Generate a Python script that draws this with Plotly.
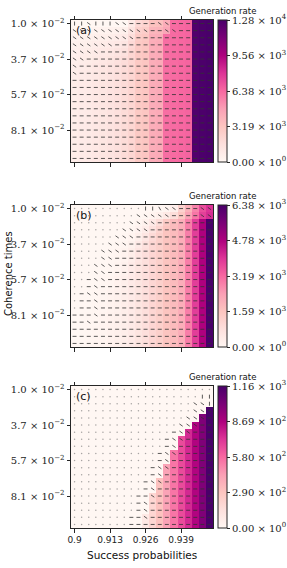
import numpy as np
import plotly.graph_objects as go

# ---------------- data ----------------
success_prob = [0.9, 0.90263, 0.90526, 0.90789, 0.91053, 0.91316, 0.91579, 0.91842, 0.92105, 0.92368,
                0.92632, 0.92895, 0.93158, 0.93421, 0.93684, 0.93947, 0.94211, 0.94474, 0.94737, 0.95]
x_tick_vals = [0.9, 0.91316, 0.92632, 0.93947]
x_tick_text = ["0.9", "0.913", "0.926", "0.939"]

coherence_rows = list(range(20))
y_tick_rows = [0, 5, 10, 15]
y_tick_text = ["1.0 × 10<sup>−2</sup>", "3.7 × 10<sup>−2</sup>",
               "5.7 × 10<sup>−2</sup>", "8.1 × 10<sup>−2</sup>"]

rate_max = [12750, 6375, 1159]
cbar_text = [
    ["0.00 × 10<sup>0</sup>", "3.19 × 10<sup>3</sup>", "6.38 × 10<sup>3</sup>", "9.56 × 10<sup>3</sup>", "1.28 × 10<sup>4</sup>"],
    ["0.00 × 10<sup>0</sup>", "1.59 × 10<sup>3</sup>", "3.19 × 10<sup>3</sup>", "4.78 × 10<sup>3</sup>", "6.38 × 10<sup>3</sup>"],
    ["0.00 × 10<sup>0</sup>", "2.90 × 10<sup>2</sup>", "5.80 × 10<sup>2</sup>", "8.69 × 10<sup>2</sup>", "1.16 × 10<sup>3</sup>"],
]

rate_a = [
    [0, 0, 0, 0, 0, 0, 0, 0, 900, 2000, 2300, 3300, 3400, 4200, 6300, 6400, 6500, 12500, 12650, 12750],
    [150, 180, 220, 260, 300, 360, 420, 500, 1300, 2500, 2700, 3800, 3900, 4500, 6300, 6400, 6500, 12500, 12650, 12750],
    [300, 350, 400, 480, 560, 650, 760, 900, 1700, 2800, 3000, 4100, 4200, 6200, 6300, 6400, 6500, 12500, 12650, 12750],
    [420, 490, 560, 660, 770, 900, 1050, 1250, 2000, 2900, 3100, 4200, 4300, 6200, 6300, 6400, 6500, 12500, 12650, 12750],
    [520, 600, 690, 810, 940, 1100, 1300, 1550, 2200, 2900, 3100, 4200, 4300, 6200, 6300, 6400, 6500, 12500, 12650, 12750],
    [600, 700, 790, 930, 1080, 1270, 1500, 1750, 2200, 2900, 3100, 4200, 4300, 6200, 6300, 6400, 6500, 12500, 12650, 12750],
    [660, 760, 860, 1010, 1160, 1360, 1570, 1820, 2200, 2900, 3100, 4200, 4300, 6200, 6300, 6400, 6500, 12500, 12650, 12750],
    [700, 800, 900, 1050, 1200, 1400, 1600, 1850, 2200, 2900, 3100, 4200, 4300, 6200, 6300, 6400, 6500, 12500, 12650, 12750],
    [700, 800, 900, 1050, 1200, 1400, 1600, 1850, 2200, 2900, 3100, 4200, 4300, 6200, 6300, 6400, 6500, 12500, 12650, 12750],
    [700, 800, 900, 1050, 1200, 1400, 1600, 1850, 2200, 2900, 3100, 4200, 4300, 6200, 6300, 6400, 6500, 12500, 12650, 12750],
    [700, 800, 900, 1050, 1200, 1400, 1600, 1850, 2200, 2900, 3100, 4200, 4300, 6200, 6300, 6400, 6500, 12500, 12650, 12750],
    [700, 800, 900, 1050, 1200, 1400, 1600, 1850, 2200, 2900, 3100, 4200, 4300, 6200, 6300, 6400, 6500, 12500, 12650, 12750],
    [700, 800, 900, 1050, 1200, 1400, 1600, 1850, 2200, 2900, 3100, 4200, 4300, 6200, 6300, 6400, 6500, 12500, 12650, 12750],
    [700, 800, 900, 1050, 1200, 1400, 1600, 1850, 2200, 2900, 3100, 4200, 4300, 6200, 6300, 6400, 6500, 12500, 12650, 12750],
    [700, 800, 900, 1050, 1200, 1400, 1600, 1850, 2200, 2900, 3100, 4200, 4300, 6200, 6300, 6400, 6500, 12500, 12650, 12750],
    [700, 800, 900, 1050, 1200, 1400, 1600, 1850, 2200, 2900, 3100, 4200, 4300, 6200, 6300, 6400, 6500, 12500, 12650, 12750],
    [700, 800, 900, 1050, 1200, 1400, 1600, 1850, 2200, 2900, 3100, 4200, 4300, 6200, 6300, 6400, 6500, 12500, 12650, 12750],
    [700, 800, 900, 1050, 1200, 1400, 1600, 1850, 2200, 2900, 3100, 4200, 4300, 6200, 6300, 6400, 6500, 12500, 12650, 12750],
    [700, 800, 900, 1050, 1200, 1400, 1600, 1850, 2200, 2900, 3100, 4200, 4300, 6200, 6300, 6400, 6500, 12500, 12650, 12750],
    [700, 800, 900, 1050, 1200, 1400, 1600, 1850, 2200, 2900, 3100, 4200, 4300, 6200, 6300, 6400, 6500, 12500, 12650, 12750],
]

rate_b = [
    [0, 0, 0, 0, 0, 0, 0, 0, 0, 0, 0, 0, 0, 60, 300, 1200, 2000, 2800, 3600, 4000],
    [0, 0, 0, 0, 0, 0, 0, 0, 0, 0, 40, 120, 250, 500, 900, 1500, 2300, 3000, 3800, 4100],
    [0, 0, 0, 0, 0, 0, 0, 0, 0, 60, 200, 480, 900, 1450, 1800, 2100, 2870, 3825, 4780, 6375],
    [0, 0, 0, 0, 0, 0, 0, 0, 45, 160, 375, 760, 1150, 1600, 1800, 2100, 2870, 3825, 4780, 6375],
    [0, 0, 0, 0, 0, 0, 0, 32, 112, 290, 580, 970, 1280, 1600, 1800, 2100, 2870, 3825, 4780, 6375],
    [0, 0, 0, 0, 0, 0, 25, 80, 200, 450, 750, 1080, 1280, 1600, 1800, 2100, 2870, 3825, 4780, 6375],
    [0, 0, 0, 0, 0, 19, 62, 145, 315, 575, 830, 1080, 1280, 1600, 1800, 2100, 2870, 3825, 4780, 6375],
    [0, 0, 0, 0, 0, 19, 62, 145, 315, 575, 830, 1080, 1280, 1600, 1800, 2100, 2870, 3825, 4780, 6375],
    [0, 0, 0, 0, 13, 48, 112, 225, 405, 640, 830, 1080, 1280, 1600, 1800, 2100, 2870, 3825, 4780, 6375],
    [0, 0, 0, 0, 13, 48, 112, 225, 405, 640, 830, 1080, 1280, 1600, 1800, 2100, 2870, 3825, 4780, 6375],
    [0, 0, 0, 10, 32, 85, 175, 290, 450, 640, 830, 1080, 1280, 1600, 1800, 2100, 2870, 3825, 4780, 6375],
    [0, 0, 0, 10, 32, 85, 175, 290, 450, 640, 830, 1080, 1280, 1600, 1800, 2100, 2870, 3825, 4780, 6375],
    [0, 0, 8, 25, 58, 133, 225, 320, 450, 640, 830, 1080, 1280, 1600, 1800, 2100, 2870, 3825, 4780, 6375],
    [0, 0, 8, 25, 58, 133, 225, 320, 450, 640, 830, 1080, 1280, 1600, 1800, 2100, 2870, 3825, 4780, 6375],
    [0, 0, 8, 25, 58, 133, 225, 320, 450, 640, 830, 1080, 1280, 1600, 1800, 2100, 2870, 3825, 4780, 6375],
    [0, 6, 19, 45, 91, 171, 250, 320, 450, 640, 830, 1080, 1280, 1600, 1800, 2100, 2870, 3825, 4780, 6375],
    [0, 6, 19, 45, 91, 171, 250, 320, 450, 640, 830, 1080, 1280, 1600, 1800, 2100, 2870, 3825, 4780, 6375],
    [4, 14, 34, 70, 117, 190, 250, 320, 450, 640, 830, 1080, 1280, 1600, 1800, 2100, 2870, 3825, 4780, 6375],
    [4, 14, 34, 70, 117, 190, 250, 320, 450, 640, 830, 1080, 1280, 1600, 1800, 2100, 2870, 3825, 4780, 6375],
    [4, 14, 34, 70, 117, 190, 250, 320, 450, 640, 830, 1080, 1280, 1600, 1800, 2100, 2870, 3825, 4780, 6375],
]

rate_c = [
    [0, 0, 0, 0, 0, 0, 0, 0, 0, 0, 0, 0, 0, 0, 0, 0, 0, 0, 0, 0],
    [0, 0, 0, 0, 0, 0, 0, 0, 0, 0, 0, 0, 0, 0, 0, 0, 0, 0, 0, 0],
    [0, 0, 0, 0, 0, 0, 0, 0, 0, 0, 0, 0, 0, 0, 0, 0, 0, 0, 0, 0],
    [0, 0, 0, 0, 0, 0, 0, 0, 0, 0, 0, 0, 0, 0, 0, 0, 0, 0, 0, 1159],
    [0, 0, 0, 0, 0, 0, 0, 0, 0, 0, 0, 0, 0, 0, 0, 0, 0, 0, 1000, 1159],
    [0, 0, 0, 0, 0, 0, 0, 0, 0, 0, 0, 0, 0, 0, 0, 0, 0, 860, 1000, 1159],
    [0, 0, 0, 0, 0, 0, 0, 0, 0, 0, 0, 0, 0, 0, 0, 0, 755, 860, 1000, 1159],
    [0, 0, 0, 0, 0, 0, 0, 0, 0, 0, 0, 0, 0, 0, 0, 660, 755, 860, 1000, 1159],
    [0, 0, 0, 0, 0, 0, 0, 0, 0, 0, 0, 0, 0, 0, 0, 660, 755, 860, 1000, 1159],
    [0, 0, 0, 0, 0, 0, 0, 0, 0, 0, 0, 0, 0, 0, 545, 660, 755, 860, 1000, 1159],
    [0, 0, 0, 0, 0, 0, 0, 0, 0, 0, 0, 0, 0, 0, 545, 660, 755, 860, 1000, 1159],
    [0, 0, 0, 0, 0, 0, 0, 0, 0, 0, 0, 0, 0, 420, 545, 660, 755, 860, 1000, 1159],
    [0, 0, 0, 0, 0, 0, 0, 0, 0, 0, 0, 0, 0, 420, 545, 660, 755, 860, 1000, 1159],
    [0, 0, 0, 0, 0, 0, 0, 0, 0, 0, 0, 0, 300, 420, 545, 660, 755, 860, 1000, 1159],
    [0, 0, 0, 0, 0, 0, 0, 0, 0, 0, 0, 0, 300, 420, 545, 660, 755, 860, 1000, 1159],
    [0, 0, 0, 0, 0, 0, 0, 0, 0, 0, 0, 200, 300, 420, 545, 660, 755, 860, 1000, 1159],
    [0, 0, 0, 0, 0, 0, 0, 0, 0, 0, 0, 200, 300, 420, 545, 660, 755, 860, 1000, 1159],
    [0, 0, 0, 0, 0, 0, 0, 0, 0, 0, 0, 200, 300, 420, 545, 660, 755, 860, 1000, 1159],
    [0, 0, 0, 0, 0, 0, 0, 0, 0, 0, 90, 200, 300, 420, 545, 660, 755, 860, 1000, 1159],
    [0, 0, 0, 0, 0, 0, 0, 0, 0, 0, 90, 200, 300, 420, 545, 660, 755, 860, 1000, 1159],
]

# direction glyphs of the gradient arrows: h = horizontal, d = diagonal,
# s = steep, v = vertical, . = zero vector (dot)
arrows_a = [
    "vvdvvvddhhhhddhhhhhh",
    "dddddddddddhhddhhhhh",
    "dddddddddhhhhhhhhhhh",
    "ddddddhhhhhhhhhhhhhh",
    "ddddhhhhhhhhhhhhhhhh",
    "ddhhhhhhhhhhhhhhhhhh",
    "dhhhhhhhhhhhhhhhhhhh",
    "dhhhhhhhhhhhhhhhhhhh",
    "hhhhhhhhhhhhhhhhhhhh",
    "hhhhhhhhhhhhhhhhhhhh",
    "hhhhhhhhhhhhhhhhhhhh",
    "hhhhhhhhhhhhhhhhhhhh",
    "hhhhhhhhhhhhhhhhhhhh",
    "hhhhhhhhhhhhhhhhhhhh",
    "hhhhhhhhhhhhhhhhhhhh",
    "hhhhhhhhhhhhhhhhhhhh",
    "hhhhhhhhhhhhhhhhhhhh",
    "hhhhhhhhhhhhhhhhhhhh",
    "hhhhhhhhhhhhhhhhhhhh",
    "hhhhhhhhhhhhhhhhhhhh",
]
arrows_b = [
    "..........vvsddhhhdd",
    ".........dddddhhhhdd",
    "........ddddhhhhhhhh",
    ".......ddddhhhhhhhhh",
    "......dddhhhhhhhhhhh",
    ".....dddhhhhhhhhhhhh",
    "....dddhhhhhhhhhhhhh",
    "....ddhhhhhhhhhhhhhh",
    "...dddhhhhhhhhhhhhhh",
    "...ddhhhhhhhhhhhhhhh",
    "..hddhhhhhhhhhhhhhhh",
    "..hdhhhhhhhhhhhhhhhh",
    ".hddhhhhhhhhhhhhhhhh",
    ".hhdhhhhhhhhhhhhhhhh",
    ".hhdhhhhhhhhhhhhhhhh",
    "hhhdhhhhhhhhhhhhhhhh",
    "hhdhhhhhhhhhhhhhhhhh",
    "hhhhhhhhhhhhhhhhhhhh",
    "hhhhhhhhhhhhhhhhhhhh",
    "hhhhhhhhhhhhhhhhhhhh",
]
arrows_c = [
    "....................",
    "..................vv",
    ".................ddv",
    ".................ddd",
    "................dddh",
    "...............dddhh",
    "..............hddhhh",
    ".............hddhhhh",
    ".............hdhhhhh",
    "............hddhhhhh",
    "............hdhhhhhh",
    "...........hddhhhhhh",
    "...........hdhhhhhhh",
    "..........hddhhhhhhh",
    "..........hdhhhhhhhh",
    ".........hhdhhhhhhhh",
    ".........hdhhhhhhhhh",
    ".........hdhhhhhhhhh",
    "........hhdhhhhhhhhh",
    "........hhhhhhhhhhhh",
]
glyph_angle = {"h": 0.0, "d": 35.0, "s": 60.0, "v": 90.0}

panel_letters = ["(a)", "(b)", "(c)"]

# ---------------- layout helpers ----------------
W, H = 287, 568
PX_L, PX_R = 71, 213
panel_tops = [20, 205, 386]
PANEL_H = 142


def px_x(px):
    return px / W


def px_y(py):
    return 1 - py / H


step = success_prob[1] - success_prob[0]
xr = [success_prob[0] - step / 2, success_prob[-1] + step / 2]

fig = go.Figure()
rates = [rate_a, rate_b, rate_c]
arrow_maps = [arrows_a, arrows_b, arrows_c]

serif = "DejaVu Serif"
sans = "DejaVu Sans"
axcol = "#262626"

annotations = []
for k in range(3):
    sfx = "" if k == 0 else str(k + 1)
    xa, ya = "x" + sfx, "y" + sfx
    cax = "coloraxis" + sfx
    fig.add_trace(go.Heatmap(x=success_prob, y=coherence_rows, z=rates[k],
                             coloraxis=cax, xaxis=xa, yaxis=ya, hoverinfo="skip"))
    # arrows
    lx, ly, dxs, dys = [], [], [], []
    half = 0.28
    for r, row in enumerate(arrow_maps[k]):
        row = row[:20].rjust(20, ".")
        for c, g in enumerate(row):
            x0 = success_prob[c]
            y0 = coherence_rows[r]
            if g == ".":
                dxs.append(x0)
                dys.append(y0)
                continue
            th = np.deg2rad(glyph_angle[g])
            ddx = half * step * np.cos(th)
            ddy = half * np.sin(th)
            lx += [x0 - ddx, x0 + ddx, None]
            ly += [y0 - ddy, y0 + ddy, None]
    fig.add_trace(go.Scatter(x=lx, y=ly, mode="lines", xaxis=xa, yaxis=ya,
                             line=dict(color="rgba(50,50,50,0.8)", width=1),
                             hoverinfo="skip", showlegend=False))
    if dxs:
        fig.add_trace(go.Scatter(x=dxs, y=dys, mode="markers", xaxis=xa, yaxis=ya,
                                 marker=dict(size=1.5, color="rgba(120,120,120,0.65)"),
                                 hoverinfo="skip", showlegend=False))

    top = panel_tops[k]
    bot = top + PANEL_H
    ydom = [px_y(bot), px_y(top)]
    mx = rate_max[k]
    fig.update_layout(**{
        "xaxis" + sfx: dict(domain=[px_x(PX_L), px_x(PX_R)], anchor=ya, range=xr,
                            tickvals=x_tick_vals, ticktext=x_tick_text,
                            showticklabels=(k == 2), ticks="outside", ticklen=3.5,
                            tickwidth=1, tickcolor=axcol, mirror="ticks", showline=True,
                            linecolor=axcol, linewidth=1, showgrid=False, zeroline=False,
                            automargin=False,
                            tickfont=dict(family=sans, size=9, color="#222")),
        "yaxis" + sfx: dict(domain=ydom, anchor=xa, range=[19.5, -0.5],
                            tickvals=y_tick_rows, ticktext=y_tick_text,
                            ticks="outside", ticklen=3.5, tickwidth=1, tickcolor=axcol,
                            mirror=True, showline=True, linecolor=axcol, linewidth=1,
                            showgrid=False, zeroline=False, automargin=False,
                            tickfont=dict(family=serif, size=10, color="#222")),
        cax: dict(colorscale="RdPu", cmin=0, cmax=mx,
                  colorbar=dict(x=px_x(218), xanchor="left", y=(ydom[0] + ydom[1]) / 2,
                                yanchor="middle", len=PANEL_H / H, lenmode="fraction",
                                thickness=9, thicknessmode="pixels", outlinewidth=1,
                                outlinecolor=axcol, ticks="outside", ticklen=3,
                                tickwidth=1, tickcolor=axcol,
                                tickvals=[0, mx / 4, mx / 2, 3 * mx / 4, mx],
                                ticktext=cbar_text[k], xpad=0, ypad=0,
                                tickfont=dict(family=serif, size=10, color="#222")))
    })
    annotations.append(dict(text=panel_letters[k], x=px_x(74), y=px_y(top + 2),
                            xref="paper", yref="paper", xanchor="left", yanchor="top",
                            showarrow=False, font=dict(family=sans, size=11, color="#111")))
    annotations.append(dict(text="Generation rate", x=px_x(222), y=px_y(top - 9),
                            xref="paper", yref="paper", xanchor="center", yanchor="middle",
                            showarrow=False, font=dict(family=sans, size=8.5, color="#111")))

annotations.append(dict(text="Coherence times", x=px_x(8), y=px_y(274), xref="paper",
                        yref="paper", xanchor="center", yanchor="middle", textangle=-90,
                        showarrow=False, font=dict(family=sans, size=10, color="#111")))
annotations.append(dict(text="Success probabilities", x=px_x(142), y=px_y(555), xref="paper",
                        yref="paper", xanchor="center", yanchor="middle",
                        showarrow=False, font=dict(family=sans, size=10.5, color="#111")))

fig.update_layout(width=W, height=H,
                  margin=dict(l=0, r=0, t=0, b=0, pad=0, autoexpand=False),
                  paper_bgcolor="white", plot_bgcolor="white", showlegend=False,
                  annotations=annotations)

fig.write_html("out.html", config={"displayModeBar": False},
               post_script="document.body.style.margin='0';document.body.style.overflow='hidden';")
